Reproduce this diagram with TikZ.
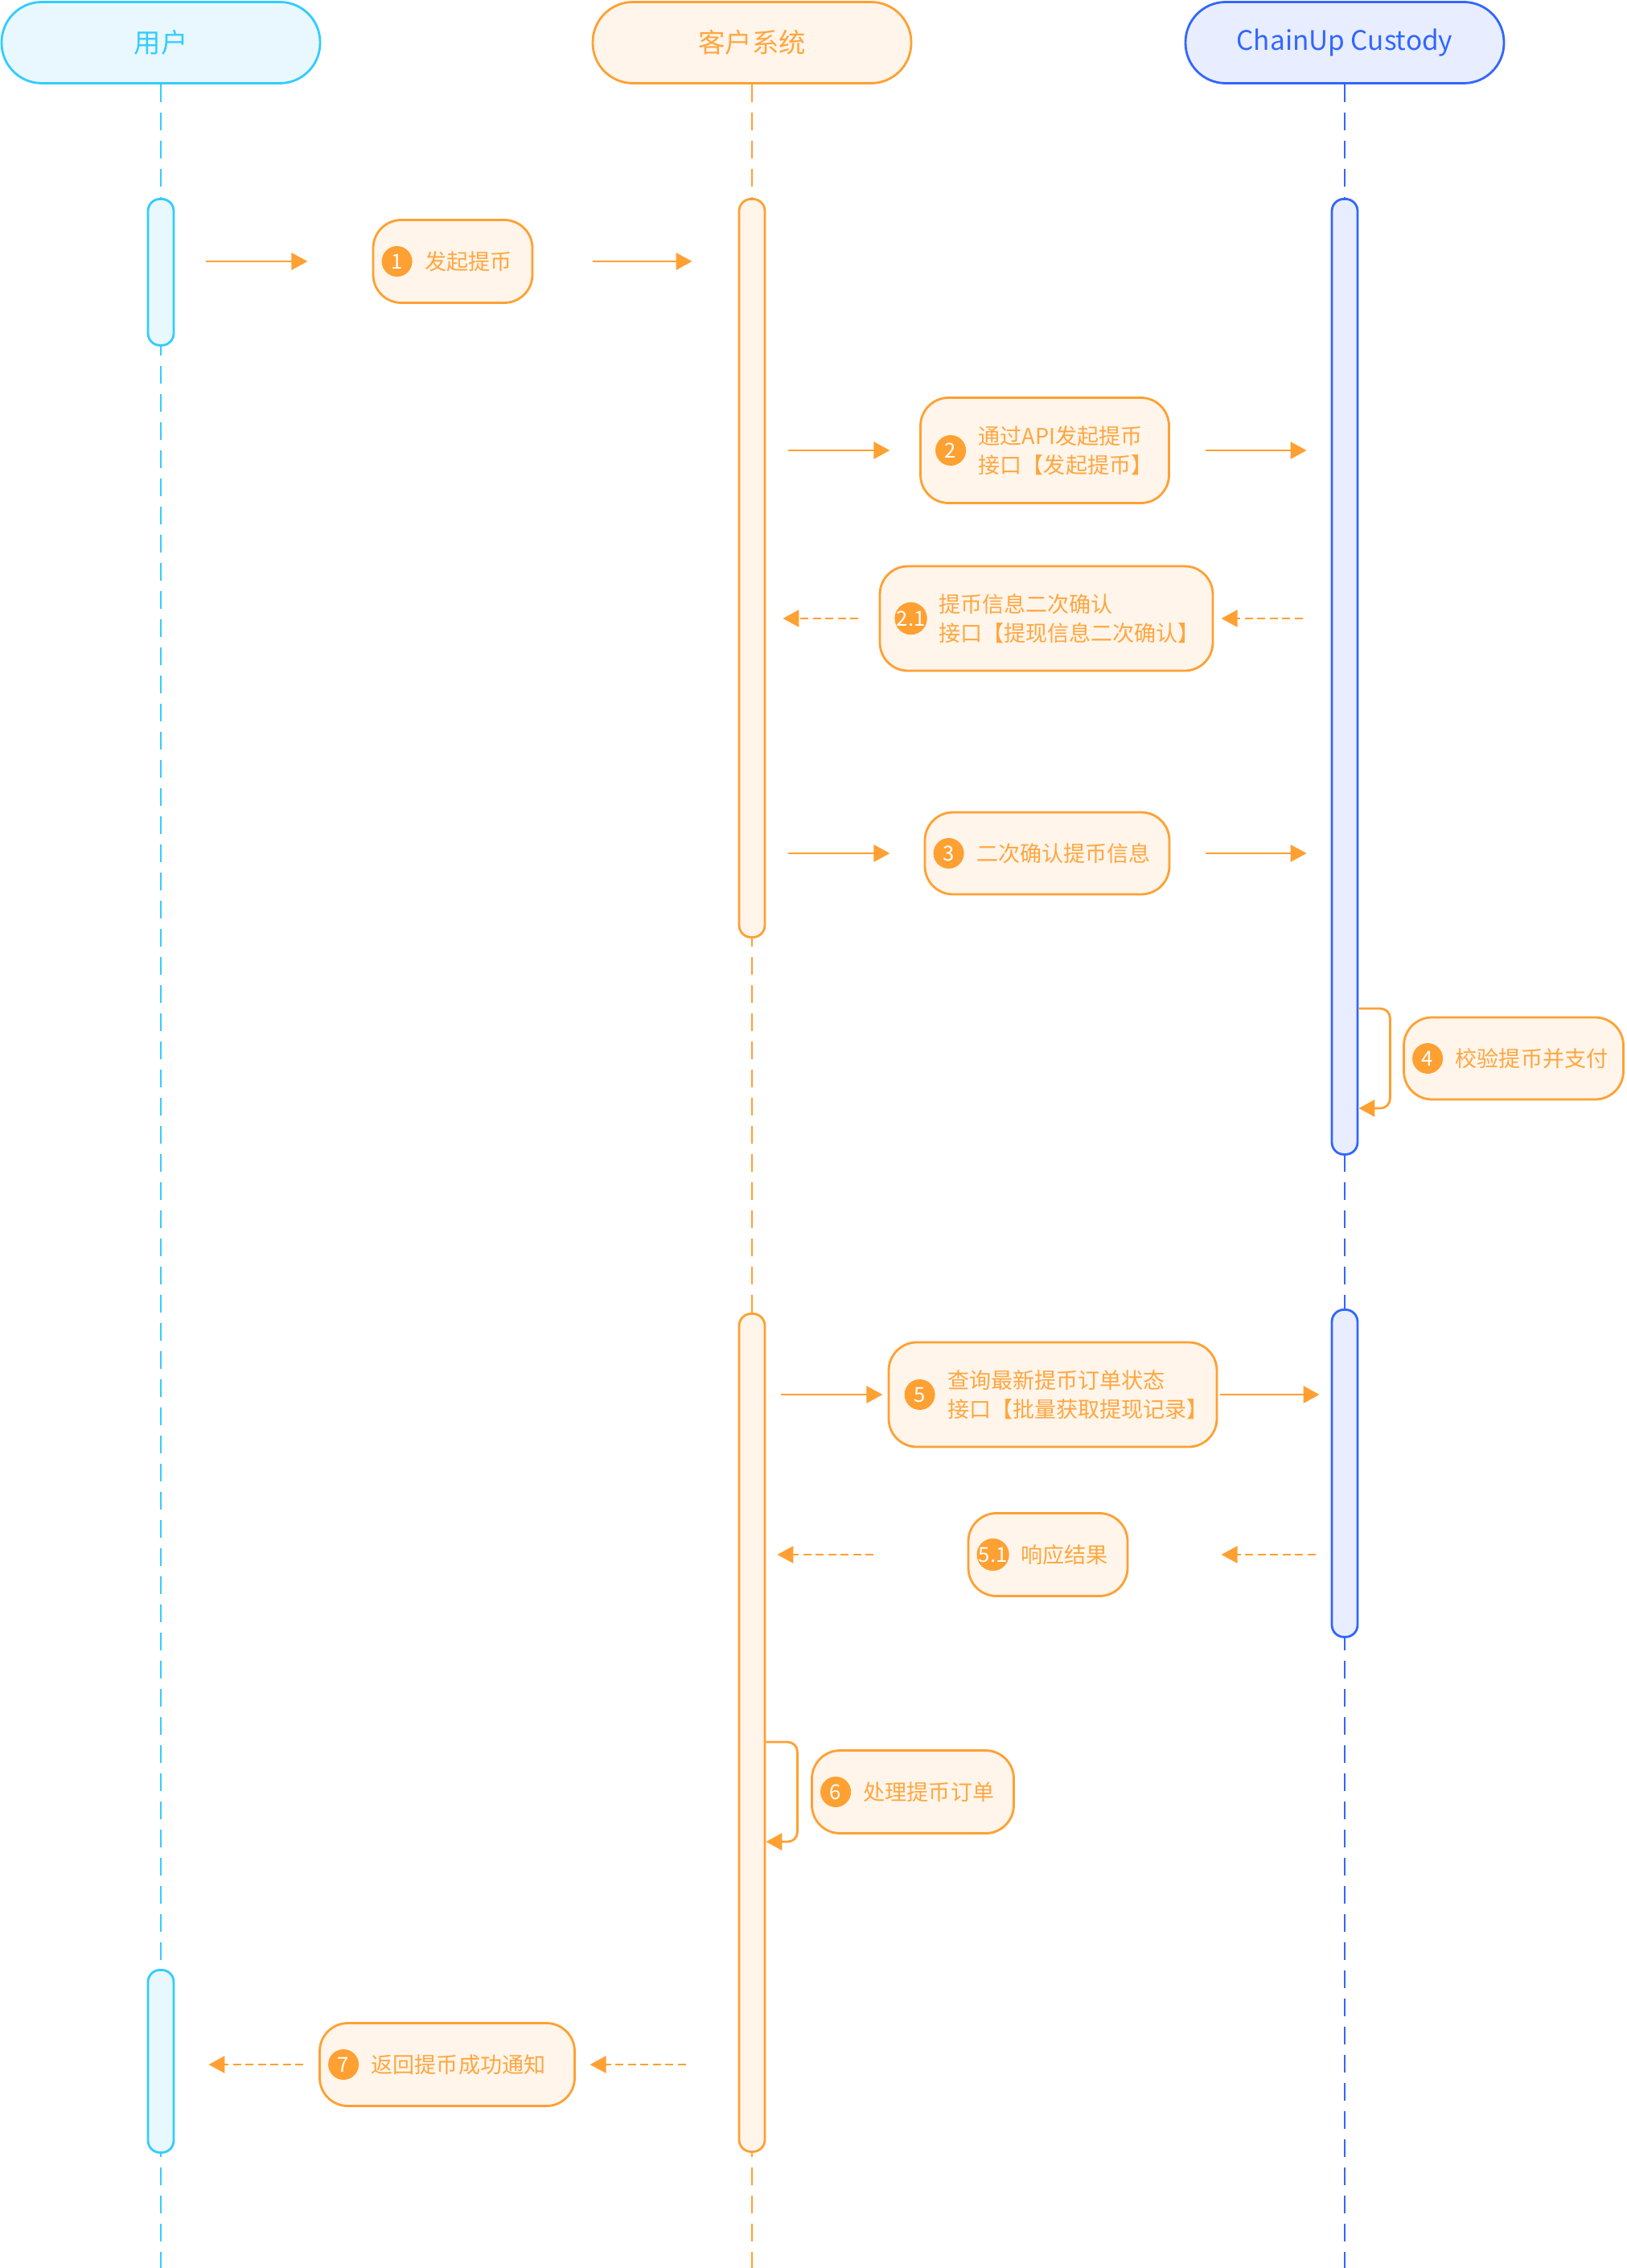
\documentclass[tikz,border=0pt]{standalone}
\usepackage{fontspec}
\setmainfont{Noto Sans CJK SC}
\usetikzlibrary{arrows.meta,calc}
\definecolor{usrline}{HTML}{33CCFF}
\definecolor{usrfill}{HTML}{E9F8FF}
\definecolor{cliline}{HTML}{FFA033}
\definecolor{clifill}{HTML}{FFF5EA}
\definecolor{cliword}{HTML}{FFA640}
\definecolor{cusline}{HTML}{3366FF}
\definecolor{cusfill}{HTML}{E8EEFF}
\tikzset{
  actor/.style={draw, line width=0.8pt, rounded corners=0.5cm, minimum width=3.96cm, minimum height=1.01cm, inner sep=0pt, font=\fontsize{9.5}{11}\selectfont},
  usr/.style={draw=usrline, fill=usrfill, text=usrline},
  cli/.style={draw=cliline, fill=clifill, text=cliword},
  cus/.style={draw=cusline, fill=cusfill, text=cusline},
  life/.style={line width=0.8pt, dash pattern=on 0.22cm off 0.13cm},
  bar/.style={draw, line width=0.8pt, rounded corners=0.15cm, minimum width=0.32cm, inner sep=0pt, anchor=north},
  msgbox/.style={draw=cliline, fill=clifill, line width=0.8pt, rounded corners=0.35cm, inner sep=0pt},
  badge/.style={circle, fill=cliline, text=white, minimum size=0.38cm, inner sep=0pt, font=\fontsize{7.3}{7.3}\selectfont},
  msgtext/.style={anchor=west, inner sep=0pt, text=cliword, align=left, font=\fontsize{7.7}{10.3}\selectfont},
  call/.style={draw=cliline, line width=0.8pt, -{Triangle[length=0.2cm,width=0.21cm]}},
  reply/.style={call, dash pattern=on 0.10cm off 0.055cm}
}
\begin{document}
\begin{tikzpicture}
\useasboundingbox (0,0) rectangle (20.22,-28.20);
% actors and lifelines
\node[actor, usr] (usr) at (2.00,-0.53) {用户};
\node[actor, cli] (cli) at (9.35,-0.53) {客户系统};
\node[actor, cus] (cus) at (16.72,-0.53) {ChainUp Custody};
\draw[life, draw=usrline] (usr.south) -- (usr.south |- 0,-28.20);
\draw[life, draw=cliline] (cli.south) -- (cli.south |- 0,-28.20);
\draw[life, draw=cusline] (cus.south) -- (cus.south |- 0,-28.20);
% activation bars
\node[bar, draw=usrline, fill=usrfill, minimum height=1.82cm] (u1) at (2.00,-2.46) {};
\node[bar, draw=usrline, fill=usrfill, minimum height=2.27cm] (u2) at (2.00,-24.48) {};
\node[bar, draw=cliline, fill=clifill, minimum height=9.18cm] (c1) at (9.35,-2.46) {};
\node[bar, draw=cliline, fill=clifill, minimum height=10.42cm] (c2) at (9.35,-16.32) {};
\node[bar, draw=cusline, fill=cusfill, minimum height=11.88cm] (k1) at (16.72,-2.46) {};
\node[bar, draw=cusline, fill=cusfill, minimum height=4.07cm] (k2) at (16.72,-16.27) {};
% step 1
\node[msgbox, minimum width=1.98cm, minimum height=1.03cm] (b1) at (5.63,-3.25) {};
\node[badge] (n1) at ($(b1.west)+(0.31,0)$) {1};
\node[msgtext] (t1) at ($(n1)+(0.34,0)$) {发起提币};
\draw[call] ($(u1.east |- b1)+(0.39,0)$) -- ++(1.26,0);
\draw[call] ($(c1.west |- b1)+(-1.81,0)$) -- ++(1.24,0);
% step 2
\node[msgbox, minimum width=3.09cm, minimum height=1.31cm] (b2) at (12.99,-5.60) {};
\node[badge] (n2) at ($(b2.west)+(0.39,0)$) {2};
\node[msgtext] (t2) at ($(n2)+(0.34,0)$) {通过API发起提币\\接口【发起提币】};
\draw[call] ($(c1.east |- b2)+(0.28,0)$) -- ++(1.26,0);
\draw[call] ($(k1.west |- b2)+(-1.56,0)$) -- ++(1.26,0);
% step 2.1
\node[msgbox, minimum width=4.14cm, minimum height=1.30cm] (b21) at (13.01,-7.69) {};
\node[badge] (n21) at ($(b21.west)+(0.40,0)$) {2.1};
\node[msgtext] (t21) at ($(n21)+(0.34,0)$) {提币信息二次确认\\接口【提现信息二次确认】};
\draw[reply] ($(c1.east |- b21)+(1.15,0)$) -- ++(-0.94,0);
\draw[reply] ($(k1.west |- b21)+(-0.35,0)$) -- ++(-1.01,0);
% step 3
\node[msgbox, minimum width=3.04cm, minimum height=1.02cm] (b3) at (13.02,-10.61) {};
\node[badge] (n3) at ($(b3.west)+(0.31,0)$) {3};
\node[msgtext] (t3) at ($(n3)+(0.34,0)$) {二次确认提币信息};
\draw[call] ($(c1.east |- b3)+(0.28,0)$) -- ++(1.26,0);
\draw[call] ($(k1.west |- b3)+(-1.56,0)$) -- ++(1.26,0);
% step 4
\node[msgbox, minimum width=2.73cm, minimum height=1.02cm] (b4) at (18.82,-13.16) {};
\node[badge] (n4) at ($(b4.west)+(0.31,0)$) {4};
\node[msgtext] (t4) at ($(n4)+(0.34,0)$) {校验提币并支付};
\draw[call, rounded corners=0.12cm] ($(k1.east |- b4)+(0,0.62)$) -- ++(0.39,0) -- ++(0,-1.24) -- ++(-0.39,0);
% step 5
\node[msgbox, minimum width=4.08cm, minimum height=1.30cm] (b5) at (13.09,-17.34) {};
\node[badge] (n5) at ($(b5.west)+(0.40,0)$) {5};
\node[msgtext] (t5) at ($(n5)+(0.34,0)$) {查询最新提币订单状态\\接口【批量获取提现记录】};
\draw[call] ($(c2.east |- b5)+(0.19,0)$) -- ++(1.26,0);
\draw[call] ($(k2.west |- b5)+(-1.38,0)$) -- ++(1.24,0);
% step 5.1
\node[msgbox, minimum width=1.98cm, minimum height=1.03cm] (b51) at (13.03,-19.33) {};
\node[badge] (n51) at ($(b51.west)+(0.32,0)$) {5.1};
\node[msgtext] (t51) at ($(n51)+(0.34,0)$) {响应结果};
\draw[reply] ($(c2.east |- b51)+(1.34,0)$) -- ++(-1.20,0);
\draw[reply] ($(k2.west |- b51)+(-0.19,0)$) -- ++(-1.17,0);
% step 6
\node[msgbox, minimum width=2.51cm, minimum height=1.03cm] (b6) at (11.35,-22.28) {};
\node[badge] (n6) at ($(b6.west)+(0.31,0)$) {6};
\node[msgtext] (t6) at ($(n6)+(0.34,0)$) {处理提币订单};
\draw[call, rounded corners=0.12cm] ($(c2.east |- b6)+(0,0.62)$) -- ++(0.39,0) -- ++(0,-1.24) -- ++(-0.39,0);
% step 7
\node[msgbox, minimum width=3.17cm, minimum height=1.03cm] (b7) at (5.56,-25.67) {};
\node[badge] (n7) at ($(b7.west)+(0.31,0)$) {7};
\node[msgtext] (t7) at ($(n7)+(0.34,0)$) {返回提币成功通知};
\draw[reply] ($(u2.east |- b7)+(1.60,0)$) -- ++(-1.18,0);
\draw[reply] ($(c2.west |- b7)+(-0.65,0)$) -- ++(-1.19,0);
\end{tikzpicture}
\end{document}
